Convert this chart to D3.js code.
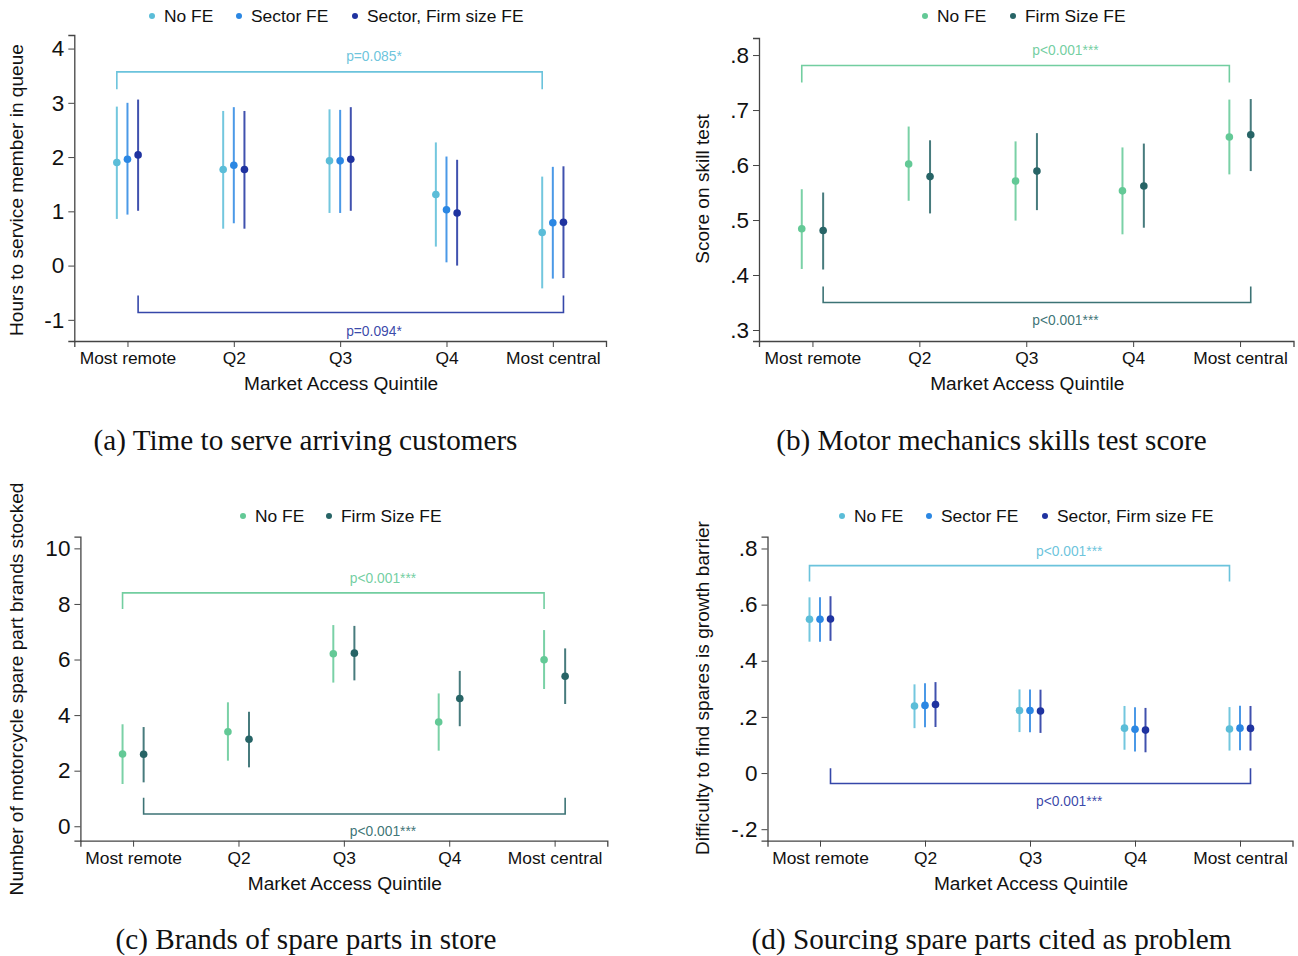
<!DOCTYPE html>
<html>
<head>
<meta charset="utf-8">
<script src="https://cdn.jsdelivr.net/npm/d3@7/dist/d3.min.js"></script>
<style>
  html, body { margin: 0; padding: 0; background: #fff; }
  svg { display: block; }
  text { font-family: "Liberation Sans", Arial, Helvetica, sans-serif; fill: #111; }
</style>
</head>
<body>
<svg id="fig" width="1298" height="956"></svg>
<script>
// Market access quintiles shared by all four panels
const quintiles = ["Most remote", "Q2", "Q3", "Q4", "Most central"];

// Each entry: [estimate, lower 95% bound, upper 95% bound]
// (a) Hours to service member in queue
const serveNoFE       = [[1.90, 0.86, 2.93], [1.77, 0.68, 2.85], [1.93, 0.97, 2.88], [1.31, 0.35, 2.27], [0.61, -0.42, 1.64]];
const serveSectorFE   = [[1.96, 0.94, 3.00], [1.85, 0.78, 2.92], [1.93, 0.97, 2.87], [1.03, 0.06, 2.01], [0.79, -0.24, 1.82]];
const serveSectorSize = [[2.04, 1.01, 3.06], [1.77, 0.68, 2.85], [1.96, 1.01, 2.92], [0.97, 0.00, 1.95], [0.80, -0.23, 1.83]];

// (b) Score on skill test
const skillNoFE   = [[0.484, 0.411, 0.556], [0.602, 0.535, 0.670], [0.571, 0.499, 0.643], [0.553, 0.474, 0.632], [0.651, 0.583, 0.719]];
const skillSizeFE = [[0.481, 0.410, 0.550], [0.579, 0.512, 0.645], [0.589, 0.518, 0.658], [0.562, 0.486, 0.639], [0.655, 0.589, 0.720]];

// (c) Number of spare part brands stocked
const brandsNoFE   = [[2.60, 1.52, 3.67], [3.40, 2.36, 4.46], [6.21, 5.17, 7.24], [3.75, 2.72, 4.78], [5.99, 4.94, 7.06]];
const brandsSizeFE = [[2.59, 1.58, 3.57], [3.13, 2.12, 4.12], [6.23, 5.25, 7.21], [4.60, 3.60, 5.59], [5.40, 4.40, 6.40]];

// (d) Difficulty to find spares is a growth barrier
const sparesNoFE       = [[0.548, 0.468, 0.626], [0.239, 0.160, 0.316], [0.223, 0.146, 0.298], [0.160, 0.083, 0.239], [0.157, 0.080, 0.235]];
const sparesSectorFE   = [[0.548, 0.468, 0.626], [0.241, 0.163, 0.320], [0.223, 0.145, 0.298], [0.156, 0.077, 0.234], [0.160, 0.081, 0.240]];
const sparesSectorSize = [[0.549, 0.471, 0.630], [0.244, 0.164, 0.324], [0.221, 0.143, 0.297], [0.153, 0.074, 0.232], [0.159, 0.080, 0.239]];

// Legend labels
const blueSeriesNames  = ["No FE", "Sector FE", "Sector, Firm size FE"];
const greenSeriesNames = ["No FE", "Firm Size FE"];

// Y tick values
const ticksA = [-1, 0, 1, 2, 3, 4];
const ticksB = [0.3, 0.4, 0.5, 0.6, 0.7, 0.8];
const ticksC = [0, 2, 4, 6, 8, 10];
const ticksD = [-0.2, 0, 0.2, 0.4, 0.6, 0.8];

// Test of most remote vs most central: p-value labels
const pLabelsA = ["p=0.085*", "p=0.094*"];
const pLabelsB = ["p<0.001***", "p<0.001***"];
const pLabelsC = ["p<0.001***", "p<0.001***"];
const pLabelsD = ["p<0.001***", "p<0.001***"];

const blueColors  = ["#5bbdd8", "#2b87e3", "#1f33a0"];
const greenColors = ["#63c996", "#276466"];

// Stata-style tick labels: ".8", "-.2", plain hyphen for negatives
const stataFmt = v => {
  if (Math.abs(v) < 1e-9) return "0";
  const s = String(+v.toFixed(4));
  return s.replace(/^0\./, ".").replace(/^-0\./, "-.");
};
const intFmt = v => String(Math.round(v));

const svg = d3.select("#fig");

function drawPanel(cfg) {
  const g = svg.append("g");
  const x = d3.scaleLinear().domain([0.5, 5.5]).range(cfg.xRange);
  const y = d3.scaleLinear().domain(cfg.yDomain).range(cfg.yRange);
  const n = cfg.series.length;
  const offsets = n === 3 ? [-0.1, 0, 0.1] : [-0.1, 0.1];

  // Axes
  const yAxis = d3.axisLeft(y).tickValues(cfg.ticks).tickSize(6).tickPadding(4)
    .tickFormat(cfg.fmt || intFmt);
  const ya = g.append("g").attr("transform", `translate(${cfg.xRange[0]},0)`).call(yAxis);
  ya.selectAll("text").style("font-size", "22.5px").attr("fill", "#111");

  const xAxis = d3.axisBottom(x).tickValues([1, 2, 3, 4, 5]).tickSize(6).tickPadding(5)
    .tickFormat((d, i) => quintiles[i]);
  const xa = g.append("g").attr("transform", `translate(0,${cfg.yRange[0]})`).call(xAxis);
  xa.selectAll("text").style("font-size", "17.4px").attr("fill", "#111");

  [ya, xa].forEach(a => {
    a.select(".domain").attr("stroke", "#444").attr("stroke-width", 1.3);
    a.selectAll(".tick line").attr("stroke", "#444").attr("stroke-width", 1);
  });

  // Axis titles
  g.append("text")
    .attr("x", (cfg.xRange[0] + cfg.xRange[1]) / 2 + 1)
    .attr("y", cfg.yRange[0] + 49)
    .attr("text-anchor", "middle")
    .style("font-size", "19.1px")
    .text("Market Access Quintile");

  g.append("text")
    .attr("transform", `translate(${cfg.yTitleX},${cfg.yTitleY}) rotate(-90)`)
    .attr("text-anchor", "middle")
    .style("font-size", "19.1px")
    .text(cfg.yTitle);

  // Error bars and point estimates
  cfg.series.forEach((s, si) => {
    const col = cfg.colors[si];
    const sg = g.append("g");
    sg.selectAll("line.ci").data(s).join("line")
      .attr("class", "ci")
      .attr("x1", (d, i) => x(i + 1 + offsets[si]))
      .attr("x2", (d, i) => x(i + 1 + offsets[si]))
      .attr("y1", d => y(d[1]))
      .attr("y2", d => y(d[2]))
      .attr("stroke", col)
      .attr("stroke-opacity", 0.85)
      .attr("stroke-width", 2);
    sg.selectAll("circle").data(s).join("circle")
      .attr("cx", (d, i) => x(i + 1 + offsets[si]))
      .attr("cy", d => y(d[0]))
      .attr("r", 3.8)
      .attr("fill", col);
  });

  // Brackets comparing most remote vs most central
  const br = [
    { si: 0, b: cfg.brackets[0], label: cfg.pLabels[0] },
    { si: n - 1, b: cfg.brackets[1], label: cfg.pLabels[1] }
  ];
  br.forEach(({ si, b, label }) => {
    const col = cfg.colors[si];
    const x1 = x(1 + offsets[si]), x2 = x(5 + offsets[si]);
    const path = d3.path();
    path.moveTo(x1, y(b.end));
    path.lineTo(x1, y(b.level));
    path.lineTo(x2, y(b.level));
    path.lineTo(x2, y(b.end));
    g.append("path").attr("d", path.toString())
      .attr("fill", "none").attr("stroke", col).attr("stroke-width", 1.6)
      .attr("stroke-opacity", 0.9);
    g.append("text")
      .attr("x", x(3) + 6)
      .attr("y", y(b.text))
      .attr("dy", "0.35em")
      .style("font-size", "13.8px")
      .style("fill", col)
      .attr("fill-opacity", 0.9)
      .text(label);
  });

  // Legend
  const lg = g.append("g");
  cfg.legendX.forEach((lx, i) => {
    lg.append("circle").attr("cx", lx).attr("cy", cfg.legendY).attr("r", 3).attr("fill", cfg.colors[i]);
    lg.append("text").attr("x", lx + 12).attr("y", cfg.legendY + 6)
      .style("font-size", "17.4px").text(cfg.names[i]);
  });

  // Caption
  svg.append("text")
    .attr("x", cfg.captionX).attr("y", cfg.captionY)
    .attr("text-anchor", "middle")
    .style("font-size", "29.2px")
    .style("font-family", "'Liberation Serif', 'DejaVu Serif', serif")
    .text(cfg.caption);
}

drawPanel({
  series: [serveNoFE, serveSectorFE, serveSectorSize],
  colors: blueColors, names: blueSeriesNames,
  xRange: [74.3, 606], yRange: [341, 35], yDomain: [-1.39, 4.25],
  ticks: ticksA,
  yTitle: "Hours to service member in queue", yTitleX: 23, yTitleY: 190,
  brackets: [{ level: 3.57, end: 3.25, text: 3.86 }, { level: -0.865, end: -0.55, text: -1.20 }],
  pLabels: pLabelsA,
  legendX: [152, 239, 355], legendY: 16,
  caption: "(a) Time to serve arriving customers", captionX: 305.5, captionY: 450
});

drawPanel({
  series: [skillNoFE, skillSizeFE],
  colors: greenColors, names: greenSeriesNames,
  xRange: [759, 1293.5], yRange: [341, 38], yDomain: [0.28, 0.831],
  ticks: ticksB, fmt: stataFmt,
  yTitle: "Score on skill test", yTitleX: 709, yTitleY: 189,
  brackets: [{ level: 0.781, end: 0.750, text: 0.809 }, { level: 0.350, end: 0.379, text: 0.317 }],
  pLabels: pLabelsB,
  legendX: [925, 1013], legendY: 16,
  caption: "(b) Motor mechanics skills test score", captionX: 991.5, captionY: 450
});

drawPanel({
  series: [brandsNoFE, brandsSizeFE],
  colors: greenColors, names: greenSeriesNames,
  xRange: [80.4, 607.3], yRange: [840.7, 536.7], yDomain: [-0.52, 10.42],
  ticks: ticksC,
  yTitle: "Number of motorcycle spare part brands stocked", yTitleX: 23, yTitleY: 689,
  brackets: [{ level: 8.40, end: 7.82, text: 8.92 }, { level: 0.44, end: 1.03, text: -0.17 }],
  pLabels: pLabelsC,
  legendX: [243, 329], legendY: 516,
  caption: "(c) Brands of spare parts in store", captionX: 306, captionY: 949
});

drawPanel({
  series: [sparesNoFE, sparesSectorFE, sparesSectorSize],
  colors: blueColors, names: blueSeriesNames,
  xRange: [767.5, 1292.5], yRange: [840.7, 536.7], yDomain: [-0.241, 0.842],
  ticks: ticksD, fmt: stataFmt,
  yTitle: "Difficulty to find spares is growth barrier", yTitleX: 709, yTitleY: 688,
  brackets: [{ level: 0.739, end: 0.682, text: 0.789 }, { level: -0.037, end: 0.017, text: -0.099 }],
  pLabels: pLabelsD,
  legendX: [842, 929, 1045], legendY: 516,
  caption: "(d) Sourcing spare parts cited as problem", captionX: 991.5, captionY: 949
});
</script>
</body>
</html>
